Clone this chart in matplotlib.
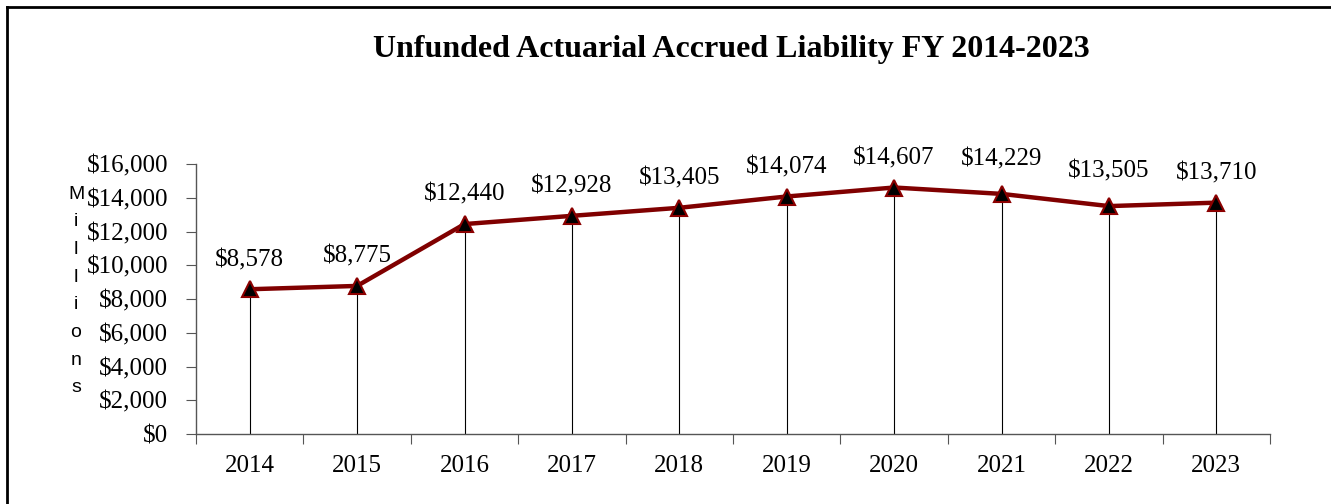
import matplotlib
matplotlib.use("Agg")
import matplotlib.pyplot as plt
from matplotlib.lines import Line2D

years = ["2014", "2015", "2016", "2017", "2018", "2019", "2020", "2021", "2022", "2023"]
values = [8578, 8775, 12440, 12928, 13405, 14074, 14607, 14229, 13505, 13710]
yticks = [0, 2000, 4000, 6000, 8000, 10000, 12000, 14000, 16000]
title = "Unfunded Actuarial Accrued Liability FY 2014-2023"
ylabel = "Millions"
label_offsets = [21, 21, 21, 21, 21, 21, 21, 25, 25, 21]

serif = ["Liberation Serif", "DejaVu Serif"]
sans = ["Liberation Sans", "DejaVu Sans"]

fig = plt.figure(figsize=(13.31, 5.04), dpi=100)
W, H = 1331, 504
ax = fig.add_axes([196 / W, 70 / H, (1270 - 196) / W, (434 - 164) / H])

x = list(range(len(years)))
ax.vlines(x, 0, values, colors="black", linewidth=0.8, zorder=2)
ax.plot(x, values, color="#800000", linewidth=3.2, marker="^", markersize=11,
        markerfacecolor="black", markeredgecolor="#8B0000", markeredgewidth=1.5, zorder=3)

for xi, v, off in zip(x, values, label_offsets):
    ax.annotate(f"${v:,}", (xi, v), xytext=(0, off), textcoords="offset points",
                ha="center", va="center", fontsize=18, family=serif)

ax.set_xlim(-0.5, len(years) - 0.5)
ax.set_ylim(0, 16000)
ax.set_yticks(yticks)
ax.set_yticklabels([f"${t:,}" for t in yticks], family=serif, fontsize=18)
ax.set_xticks([i - 0.5 for i in range(len(years) + 1)])
ax.set_xticklabels([])
ax.set_xticks(x, minor=True)
ax.set_xticklabels(years, minor=True, family=serif, fontsize=18)
ax.tick_params(axis="x", which="minor", length=0, pad=15)
ax.tick_params(axis="x", which="major", direction="out", length=7, color="#555555")
ax.tick_params(axis="y", direction="out", length=7, color="#555555", pad=13)

for s in ["top", "right"]:
    ax.spines[s].set_visible(False)
for s in ["left", "bottom"]:
    ax.spines[s].set_color("#555555")
    ax.spines[s].set_linewidth(1.0)

fig.text(731 / W, 1 - 50 / H, title, ha="center", va="center",
         fontsize=23, fontweight="bold", family=serif)
fig.text(76 / W, 1 - 291 / H, "\n".join(ylabel), ha="center", va="center",
         fontsize=14, family=sans, linespacing=1.82)

fig.add_artist(Line2D([7 / W, 7 / W], [0, 1 - 7 / H], transform=fig.transFigure,
                      color="black", linewidth=2))
fig.add_artist(Line2D([7 / W, 1], [1 - 7 / H, 1 - 7 / H], transform=fig.transFigure,
                      color="black", linewidth=2))

fig.savefig("out.png", dpi=100)
